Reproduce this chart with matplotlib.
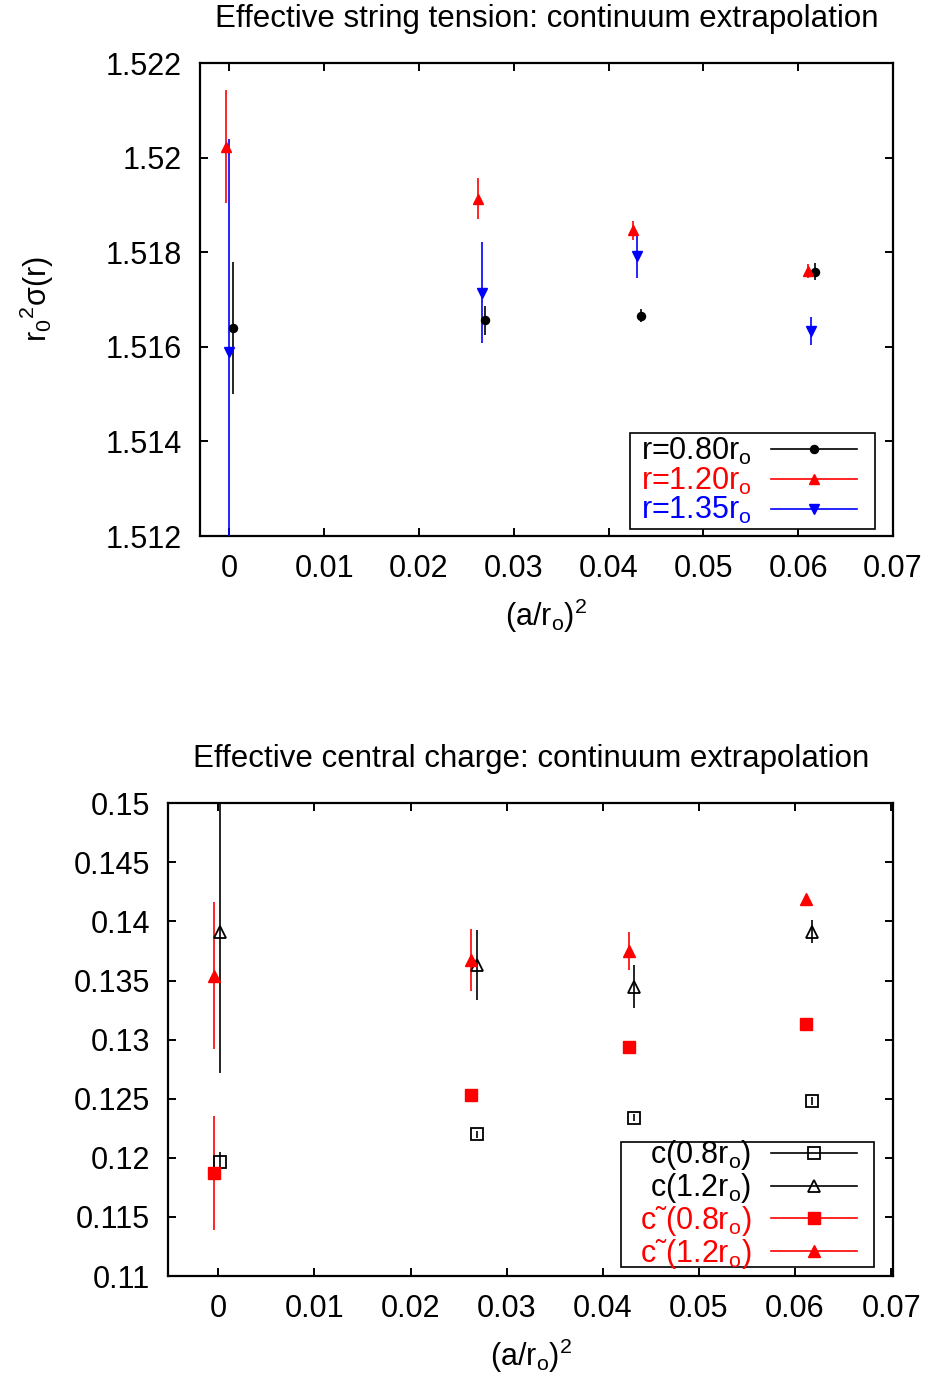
import matplotlib
matplotlib.use("Agg")
import matplotlib.pyplot as plt
from matplotlib.lines import Line2D
from matplotlib.patches import Rectangle

plt.rcParams['font.family'] = ['Liberation Sans', 'DejaVu Sans']
plt.rcParams['mathtext.fontset'] = 'custom'
plt.rcParams['mathtext.rm'] = 'Liberation Sans'
plt.rcParams['mathtext.it'] = 'Liberation Sans'
plt.rcParams['mathtext.default'] = 'regular'

# ---------------- data: top panel (effective string tension) ----------------
x_r080 = [0.0004, 0.0270, 0.0434, 0.0618]
y_r080 = [1.51640, 1.51656, 1.51666, 1.51759]
e_r080 = [0.0014, 0.0003, 0.00014, 0.00018]

x_r120 = [-0.0004, 0.0262, 0.0426, 0.0610]
y_r120 = [1.52023, 1.51913, 1.51846, 1.51760]
e_r120 = [0.0012, 0.00043, 0.0002, 0.00015]

x_r135 = [0.0, 0.0266, 0.0430, 0.0614]
y_r135 = [1.51589, 1.51714, 1.51793, 1.51633]
e_r135 = [0.0045, 0.00107, 0.00047, 0.0003]

top_yticks = [1.512, 1.514, 1.516, 1.518, 1.52, 1.522]
top_yticklabels = ['1.512', '1.514', '1.516', '1.518', '1.52', '1.522']

# ---------------- data: bottom panel (effective central charge) ----------------
x_c = [0.0002, 0.0269, 0.0433, 0.0618]
c_08 = [0.11963, 0.1220, 0.1234, 0.12481]
e_c_08 = [0.0009, 0.0003, 0.0003, 0.0003]
c_12 = [0.13914, 0.13632, 0.13449, 0.13914]
e_c_12 = [0.012, 0.003, 0.0018, 0.001]

x_ct = [-0.0004, 0.0263, 0.0427, 0.0612]
ct_08 = [0.1187, 0.12532, 0.12936, 0.1313]
e_ct_08 = [0.0048, 0.0002, 0.0002, 0.0002]
ct_12 = [0.13541, 0.13674, 0.13753, 0.1419]
e_ct_12 = [0.0062, 0.0026, 0.0016, 0.0003]

bot_yticks = [0.11, 0.115, 0.12, 0.125, 0.13, 0.135, 0.14, 0.145, 0.15]
bot_yticklabels = ['0.11', '0.115', '0.12', '0.125', '0.13', '0.135', '0.14', '0.145', '0.15']

xticks = [0, 0.01, 0.02, 0.03, 0.04, 0.05, 0.06, 0.07]
xticklabels = ['0', '0.01', '0.02', '0.03', '0.04', '0.05', '0.06', '0.07']

FS = 22
TFS = 22.5
W, H = 934, 1380
fig = plt.figure(figsize=(W / 100, H / 100), dpi=100)

def px_axes(l, t, r, b):
    return fig.add_axes([l / W, 1 - b / H, (r - l) / W, (b - t) / H])

def style(ax):
    for s in ax.spines.values():
        s.set_linewidth(1.6)
    ax.tick_params(direction='in', length=6, width=1.4, top=True, right=True,
                   labelsize=FS, pad=13)
    ax.set_xticks(xticks)
    ax.set_xticklabels(xticklabels)

def boxed_legend(ax, handles, labels, colors, box, line_end):
    x0, y0, x1, y1 = box
    rect = Rectangle((x0, y0), x1 - x0, y1 - y0, transform=ax.transAxes,
                     facecolor='white', edgecolor='black', linewidth=1.2,
                     zorder=4.5, clip_on=False)
    ax.add_patch(rect)
    leg = ax.legend(handles, labels, loc='center right',
                    bbox_to_anchor=(line_end, (y0 + y1) / 2),
                    borderaxespad=0, fontsize=FS, markerfirst=False,
                    handlelength=2.8, handletextpad=0.65, labelspacing=-0.04,
                    borderpad=0, frameon=False, labelcolor=colors)
    leg.set_zorder(5)
    return leg

# ---------------- top panel ----------------
ax1 = px_axes(200, 63, 893, 536)
style(ax1)
ax1.errorbar(x_r080, y_r080, yerr=e_r080, fmt='o', color='black', ms=5.8,
             elinewidth=1.2, capsize=0, zorder=3)
ax1.errorbar(x_r120, y_r120, yerr=e_r120, fmt='^', color='red', ms=6.5,
             elinewidth=1.2, capsize=0, zorder=3)
ax1.errorbar(x_r135, y_r135, yerr=e_r135, fmt='v', color='blue', ms=6.5,
             elinewidth=1.2, capsize=0, zorder=3)
ax1.set_xlim(-0.0031, 0.07)
ax1.set_ylim(1.512, 1.522)
ax1.set_yticks(top_yticks)
ax1.set_yticklabels(top_yticklabels)
ax1.set_title('Effective string tension: continuum extrapolation', fontsize=TFS, pad=26)
ax1.set_xlabel('(a/r$_o$)$^2$', fontsize=FS, labelpad=9)
ax1.set_ylabel('r$_0$$^2$σ(r)', fontsize=FS, labelpad=36)

h1 = [Line2D([], [], color='black', marker='o', ms=5.8, lw=1.2),
      Line2D([], [], color='red', marker='^', ms=6.5, lw=1.2),
      Line2D([], [], color='blue', marker='v', ms=6.5, lw=1.2)]
l1 = ['r=0.80r$_o$', 'r=1.20r$_o$', 'r=1.35r$_o$']
boxed_legend(ax1, h1, l1, ['black', 'red', 'blue'],
             (0.6205, 0.0157, 0.974, 0.2168), 0.948)

# ---------------- bottom panel ----------------
ax2 = px_axes(168.3, 803.3, 893, 1276)
style(ax2)
ax2.errorbar(x_c, c_08, yerr=e_c_08, fmt='s', color='black', mfc='none', mec='black',
             mew=1.3, ms=9, elinewidth=1.2, capsize=0, zorder=3)
ax2.errorbar(x_c, c_12, yerr=e_c_12, fmt='^', color='black', mfc='none', mec='black',
             mew=1.3, ms=9, elinewidth=1.2, capsize=0, zorder=3)
ax2.errorbar(x_ct, ct_08, yerr=e_ct_08, fmt='s', color='red', ms=9,
             elinewidth=1.2, capsize=0, zorder=3)
ax2.errorbar(x_ct, ct_12, yerr=e_ct_12, fmt='^', color='red', ms=8.5,
             elinewidth=1.2, capsize=0, zorder=3)
ax2.set_xlim(-0.0052, 0.0702)
ax2.set_ylim(0.11, 0.15)
ax2.set_yticks(bot_yticks)
ax2.set_yticklabels(bot_yticklabels)
ax2.set_title('Effective central charge: continuum extrapolation', fontsize=TFS, pad=26)
ax2.set_xlabel('(a/r$_o$)$^2$', fontsize=FS, labelpad=9)

h2 = [Line2D([], [], color='black', marker='s', mfc='none', mew=1.3, ms=9, lw=1.2),
      Line2D([], [], color='black', marker='^', mfc='none', mew=1.3, ms=9, lw=1.2),
      Line2D([], [], color='red', marker='s', ms=9, lw=1.2),
      Line2D([], [], color='red', marker='^', ms=8.5, lw=1.2)]
l2 = ['c(0.8r$_o$)', 'c(1.2r$_o$)', 'c\u02dc(0.8r$_o$)', 'c\u02dc(1.2r$_o$)']
boxed_legend(ax2, h2, l2, ['black', 'black', 'red', 'red'],
             (0.624, 0.018, 0.974, 0.284), 0.950)

fig.savefig('out.png', dpi=100)
